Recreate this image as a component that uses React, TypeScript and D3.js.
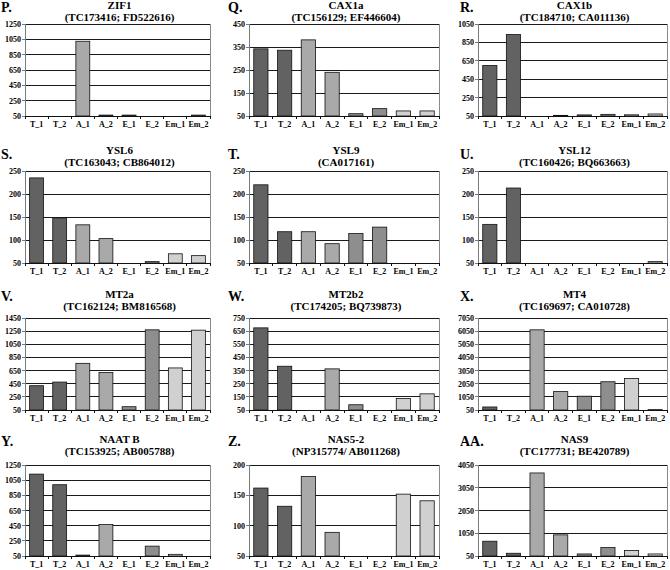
import React from "react";
import * as d3 from "d3";

const categories = ["T_1", "T_2", "A_1", "A_2", "E_1", "E_2", "Em_1", "Em_2"];

const zif1 = [0, 0, 1025, 62, 62, 0, 0, 62];
const cax1a = [342, 336, 381, 240, 60, 82, 72, 72];
const cax1b = [600, 935, 0, 57, 62, 68, 63, 72];
const ysl6 = [235, 148, 133, 103, 0, 53, 70, 66];
const ysl9 = [220, 118, 118, 92, 114, 128, 0, 0];
const ysl12 = [134, 213, 0, 0, 0, 0, 0, 53];
const mt2a = [420, 475, 760, 620, 100, 1270, 690, 1265];
const mt2b2 = [675, 383, 0, 363, 90, 0, 137, 173];
const mt4 = [280, 0, 6150, 1450, 1100, 2200, 2450, 80];
const naatb = [1130, 990, 62, 465, 0, 180, 72, 0];
const nas52 = [162, 132, 181, 89, 0, 0, 152, 141];
const nas9 = [700, 170, 3700, 980, 140, 420, 290, 140];

const ticksP = [50, 250, 450, 650, 850, 1050, 1250];
const ticksQ = [50, 150, 250, 350, 450];
const ticksR = [50, 250, 450, 650, 850, 1050];
const ticksS = [50, 100, 150, 200, 250];
const ticksV = [50, 250, 450, 650, 850, 1050, 1250, 1450];
const ticksW = [50, 150, 250, 350, 450, 550, 650, 750];
const ticksX = [50, 1050, 2050, 3050, 4050, 5050, 6050, 7050];
const ticksY = [50, 250, 450, 650, 850, 1050, 1250];
const ticksZ = [50, 100, 150, 200];
const ticksAA = [50, 1050, 2050, 3050, 4050];

const letters = ["P.", "Q.", "R.", "S.", "T.", "U.", "V.", "W.", "X.", "Y.", "Z.", "AA."];
const titles = ["ZIF1", "CAX1a", "CAX1b", "YSL6", "YSL9", "YSL12", "MT2a", "MT2b2", "MT4", "NAAT B", "NAS5-2", "NAS9"];
const subtitles = [
  "(TC173416; FD522616)", "(TC156129; EF446604)", "(TC184710; CA011136)",
  "(TC163043; CB864012)", "(CA017161)", "(TC160426; BQ663663)",
  "(TC162124; BM816568)", "(TC174205; BQ739873)", "(TC169697; CA010728)",
  "(TC153925; AB005788)", "(NP315774/ AB011268)", "(TC177731; BE420789)",
];
const seriesList = [zif1, cax1a, cax1b, ysl6, ysl9, ysl12, mt2a, mt2b2, mt4, naatb, nas52, nas9];
const tickList = [ticksP, ticksQ, ticksR, ticksS, ticksS, ticksS, ticksV, ticksW, ticksX, ticksY, ticksZ, ticksAA];

const barColors = ["#626262", "#626262", "#a9a9a9", "#a9a9a9", "#8e8e8e", "#8e8e8e", "#d0d0d0", "#d0d0d0"];

const colLeft = [25, 249, 478];
const colRight = [210, 439, 667];
const colLetterX = [1, 228, 460];
const rowTop = [24, 171, 318, 465];
const rowBottom = [116, 263, 410, 556];
const rowTitleY = [9, 154, 298, 443];
const rowLetterY = [12, 159, 301, 446];

const FONT = "'Liberation Serif', 'Times New Roman', serif";

function Panel({ i }: { i: number }) {
  const col = i % 3;
  const row = Math.floor(i / 3);
  const left = colLeft[col];
  const right = colRight[col];
  const top = rowTop[row];
  const bottom = rowBottom[row];
  const ticks = tickList[i];
  const values = seriesList[i];

  const x = d3.scaleBand<string>().domain(categories).range([left, right]).paddingInner(0.4).paddingOuter(0.2);
  const xb = d3.scaleBand<string>().domain(categories).range([left, right]).padding(0);
  const y = d3.scaleLinear().domain([ticks[0], ticks[ticks.length - 1]]).range([bottom, top]);
  const cx = (left + right) / 2 + 2;

  return (
    <g>
      <text x={colLetterX[col]} y={rowLetterY[row]} fontFamily={FONT} fontWeight="bold" fontSize={14}>
        {letters[i]}
      </text>
      <text x={cx} y={rowTitleY[row]} fontFamily={FONT} fontWeight="bold" fontSize={11} textAnchor="middle">
        {titles[i]}
      </text>
      <text x={cx} y={rowTitleY[row] + 12} fontFamily={FONT} fontWeight="bold" fontSize={11} textAnchor="middle">
        {subtitles[i]}
      </text>
      {ticks.slice(1).map((t) => (
        <line key={"g" + t} x1={left} x2={right} y1={y(t)} y2={y(t)} stroke="#1a1a1a" strokeWidth={1} shapeRendering="crispEdges" />
      ))}
      <line x1={right} x2={right} y1={top} y2={bottom} stroke="#8a8a8a" strokeWidth={1} shapeRendering="crispEdges" />
      {values.map((v, k) =>
        v > ticks[0] ? (
          <rect
            key={"b" + k}
            x={x(categories[k])}
            y={y(v)}
            width={x.bandwidth()}
            height={y(ticks[0]) - y(v)}
            fill={barColors[k]}
            stroke="#111"
            strokeWidth={0.8}
          />
        ) : null
      )}
      <line x1={left} x2={left} y1={top} y2={bottom} stroke="#7a7a7a" strokeWidth={1} shapeRendering="crispEdges" />
      {ticks.map((t) => (
        <g key={"t" + t}>
          <line x1={left - 3} x2={left} y1={y(t)} y2={y(t)} stroke="#7a7a7a" shapeRendering="crispEdges" />
          <text x={left - 4} y={y(t) + 3} fontFamily={FONT} fontWeight="bold" fontSize={8} textAnchor="end">
            {t}
          </text>
        </g>
      ))}
      <line x1={left} x2={right} y1={bottom} y2={bottom} stroke="#111" strokeWidth={1} shapeRendering="crispEdges" />
      {categories.map((c, k) => (
        <g key={"c" + c}>
          <line x1={(xb(c) as number) + (k === 0 ? 0 : 0)} x2={xb(c) as number} y1={bottom} y2={bottom + 3} stroke="#111" shapeRendering="crispEdges" />
          <text x={(x(c) as number) + x.bandwidth() / 2} y={bottom + 11} fontFamily={FONT} fontWeight="bold" fontSize={8} textAnchor="middle">
            {c}
          </text>
        </g>
      ))}
      <line x1={right} x2={right} y1={bottom} y2={bottom + 3} stroke="#111" shapeRendering="crispEdges" />
    </g>
  );
}

export default function App() {
  return (
    <svg width={670} height={570} style={{ position: "absolute", left: 0, top: 0, background: "#fff" }}>
      <rect width={670} height={570} fill="#fff" />
      {letters.map((_, i) => (
        <Panel key={i} i={i} />
      ))}
    </svg>
  );
}
